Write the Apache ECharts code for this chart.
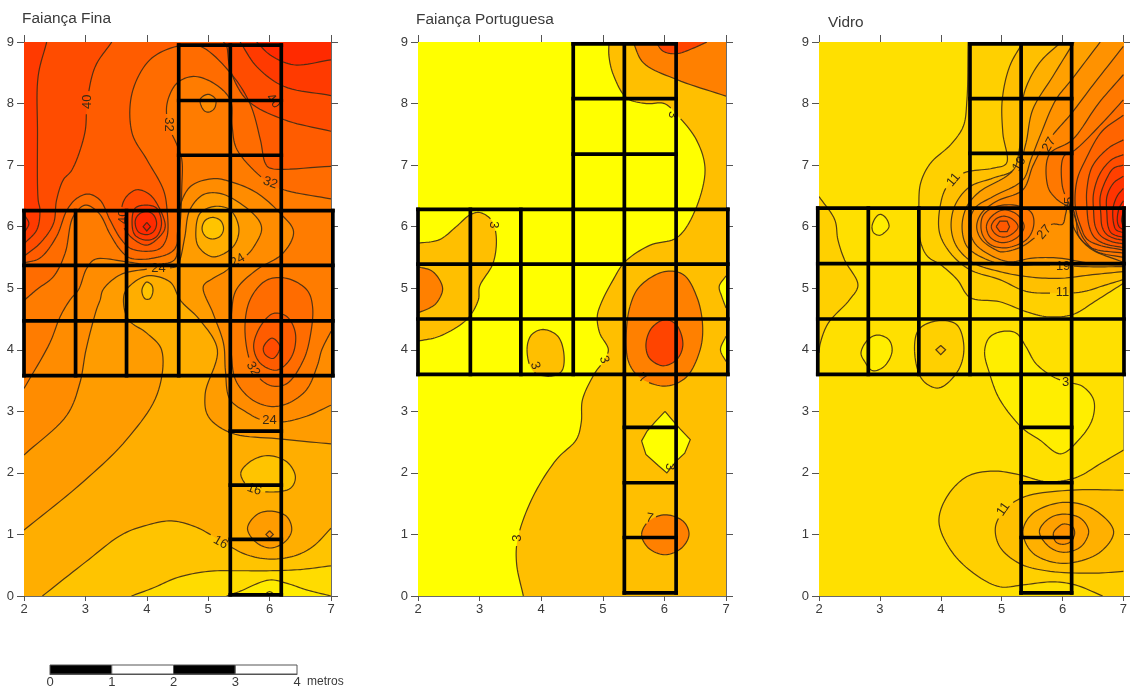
<!DOCTYPE html>
<html><head><meta charset="utf-8">
<style>html,body{margin:0;padding:0;background:#fff}#c{width:1130px;height:691px}</style>
<script src="https://cdn.jsdelivr.net/npm/echarts@6/dist/echarts.min.js"></script>
</head><body><div id="c"></div>
<script>
const panelTitles = ['Faiança Fina','Faiança Portuguesa','Vidro'];
const xTicks = [2,3,4,5,6,7];
const yTicks = [0,1,2,3,4,5,6,7,8,9];
const scaleStops = [0,1,2,3,4];

// band colours: value band starting at each contour level
const fineBands = {0:'#FFFA00',4:'#FFEC00',8:'#FFDC00',12:'#FFC400',16:'#FFAE00',20:'#FF9C00',24:'#FF8C00',28:'#FF7C00',32:'#FF6C00',36:'#FF5C00',40:'#FF4C00',44:'#FF3A00',48:'#FF2A00',52:'#FF1C00'};
const portBands = {0:'#FFFF00',3:'#FFBF00',7:'#FF8000',11:'#FF4400'};
const vidroBands = {0:'#FFEE00',3:'#FFE000',7:'#FFD000',11:'#FFC000',15:'#FFB000',19:'#FFA000',23:'#FF9200',27:'#FF8600',31:'#FF7800',35:'#FF6E00',39:'#FF6400',43:'#FF5800',47:'#FF4C00',51:'#FF4000',55:'#FF3400',59:'#FF2C00',63:'#FF2400',67:'#FF1C00'};

// contour: [level, filled band, points [x metres, y metres], closure outside the frame or null for a closed loop, sharp?]
const B = -0.5, T = 9.5, L = 1.5, R = 7.5;
const fineContours = [
 [20,20,[[2,1.07],[2.97,1.86],[3.67,2.54],[4.17,3.28],[4.24,4.0],[4.0,4.27],[3.7,4.49],[3.62,4.81],[3.67,4.98],[4,5.2],[4.38,5.1],[4.55,4.8],[4.85,4.5],[5.15,4.0],[4.95,3.28],[5.0,2.92],[5.37,2.65],[6.2,2.55],[7,2.47]],[[R,2.47],[R,T],[L,T],[L,1.07]]],
 [16,12,[[2.3,0],[3,0.55],[3.6,1.0],[4.0,1.15],[4.4,1.22],[4.8,1.12],[5.2,0.9],[5.6,0.68],[6,0.6],[6.4,0.65],[6.7,0.8],[7,1.1]],[[R,1.1],[R,B],[2.3,B]]],
 [12,8,[[3.75,0],[4.1,0.13],[4.5,0.3],[5,0.4],[5.5,0.41],[6,0.41],[6.5,0.43],[7,0.49]],[[R,0.49],[R,B],[3.75,B]]],
 [8,4,[[5.3,0],[5.5,0.07],[6,0.26],[6.3,0.2],[6.6,0.1],[7,0]],[[R,0],[R,B],[5.3,B]]],
 [4,0,[[5.9,0],[6,0.07],[6.1,0]],[[6.1,B],[5.9,B]]],
 [16,12,[[3.92,4.95],[3.95,5.05],[4,5.1],[4.08,5.05],[4.1,4.95],[4.05,4.83],[3.97,4.83]],null],
 [16,12,[[5.53,1.99],[5.68,2.18],[5.96,2.28],[6.28,2.18],[6.42,1.94],[6.34,1.75],[5.96,1.69],[5.68,1.75]],null],
 [20,20,[[5.64,1.10],[5.79,1.32],[6.01,1.38],[6.28,1.29],[6.36,1.07],[6.25,.88],[6.01,.78],[5.77,.88]],null],
 [24,24,[[6,1.06],[6.06,1],[6,.94],[5.94,1]],null,true],
 [24,24,[[2,2.29],[2.7,2.94],[2.91,3.46],[3.01,4.0],[3.18,4.65],[3.24,4.81],[3.29,4.98],[3.57,5.22],[4,5.31],[4.49,5.36],[4.54,5.46],[4.62,5.84],[4.70,6.27],[4.92,6.52],[5.19,6.54],[5.52,6.38],[5.82,6.11],[5.87,5.95],[5.76,5.70],[5.63,5.54],[5.49,5.47],[5.30,5.29],[5.08,5.16],[4.92,5.03],[5.08,4.59],[5.25,4.10],[5.28,3.67],[5.35,3.2],[5.6,3.0],[5.9,2.85],[6.22,2.83],[6.6,2.92],[7,3.1]],[[R,3.1],[R,T],[L,T],[L,2.29]]],
 [20,16,[[4.80,5.95],[4.87,6.22],[5.11,6.33],[5.36,6.27],[5.50,5.97],[5.41,5.68],[5.08,5.51],[4.84,5.68]],null],
 [16,12,[[4.9,5.97],[4.95,6.1],[5.07,6.15],[5.2,6.1],[5.25,5.97],[5.2,5.85],[5.07,5.8],[4.95,5.85]],null],
 [28,28,[[2,3.37],[2.42,4.11],[2.59,4.54],[2.75,4.81],[2.89,4.98],[3.02,5.32],[3.16,5.47],[3.67,5.43],[4,5.39],[4.45,5.46],[4.5,5.9],[4.54,6.33],[4.72,6.66],[5.09,6.78],[5.4,6.72],[5.79,6.55],[6.17,6.22],[6.39,5.92],[6.22,5.57],[5.79,5.30],[5.46,4.98],[5.38,4.6],[5.38,3.9],[5.45,3.5],[5.7,3.2],[6.01,3.08],[6.3,3.13],[6.6,3.35],[6.78,3.75],[6.85,4.0],[7,4.3]],[[R,4.3],[R,T],[L,T],[L,3.37]]],
 [28,24,[[4.87,8.07],[4.92,7.9],[5.0,7.86],[5.1,7.92],[5.12,8.07],[5.0,8.15]],null],
 [32,32,[[2,4.8],[2.21,4.98],[2.48,5.19],[2.67,5.57],[2.80,6.16],[3.0,6.35],[3.22,6.22],[3.40,5.88],[3.57,5.62],[3.73,5.49],[4.11,5.49],[4.44,5.62],[4.53,5.95],[4.57,6.65],[4.57,7.09],[4.49,7.33],[4.35,7.66],[4.33,8.0],[4.49,8.33],[4.76,8.44],[5.09,8.33],[5.36,8.06],[5.39,7.63],[5.47,7.25],[5.96,6.73],[6.23,6.6],[7,6.45]],[[R,6.45],[R,T],[L,T],[L,4.8]]],
 [32,32,[[5.60,4.27],[5.68,4.81],[5.95,5.13],[6.28,5.16],[6.61,4.97],[6.70,4.70],[6.66,4.21],[6.55,3.83],[6.28,3.45],[6.01,3.42],[5.75,3.65]],null],
 [36,36,[[5.74,4.05],[5.85,4.38],[6.06,4.59],[6.28,4.54],[6.42,4.27],[6.36,3.89],[6.12,3.67],[5.85,3.78]],null],
 [40,40,[[5.90,4.04],[6.04,4.19],[6.17,4.05],[6.06,3.86],[5.93,3.92]],null],
 [36,36,[[2,5.41],[2.26,5.49],[2.53,5.84],[2.70,6.27],[2.86,6.46],[3.05,6.53],[3.24,6.43],[3.40,6.11],[3.57,5.81],[3.73,5.65],[4.0,5.6],[4.22,5.65],[4.33,5.84],[4.33,6.27],[4.27,6.6],[4.0,7.09],[3.76,7.52],[3.76,8.17],[4.05,8.71],[4.49,8.93],[4.87,8.93],[5.36,8.5],[5.68,8.0],[5.85,7.41],[5.93,7.03],[6.01,6.95],[7,6.98]],[[R,6.98],[R,T],[L,T],[L,5.41]]],
 [40,40,[[2,5.52],[2.26,5.73],[2.48,6.05],[2.53,6.43],[2.64,6.76],[2.78,6.92],[2.99,7.52],[3.03,8.03],[3.16,8.6],[3.43,9]],[[3.43,T],[L,T],[L,5.52]]],
 [40,40,[[3.59,6.30],[3.67,6.49],[3.84,6.6],[4.05,6.52],[4.22,6.27],[4.3,6.0],[4.22,5.85],[4.0,5.7],[3.78,5.8],[3.62,6.0]],null],
 [44,44,[[3.76,6.05],[3.81,6.3],[4.0,6.35],[4.16,6.3],[4.24,6.05],[4.16,5.84],[4.0,5.78],[3.81,5.86]],null],
 [48,48,[[3.81,6.08],[3.86,6.19],[4.0,6.25],[4.11,6.19],[4.16,6.05],[4.11,5.92],[4.0,5.87],[3.86,5.92]],null],
 [52,52,[[4,6.07],[4.06,6.0],[4,5.93],[3.94,6.0]],null,true],
 [44,44,[[2.37,9],[2.23,8.44],[2.22,7.52],[2.23,6.44],[2.26,6.27],[2.21,5.95],[2,5.72]],[[L,5.72],[L,T],[2.37,T]]],
 [48,48,[[2,6.2],[2.08,6.05],[2,5.9]],[[L,5.9],[L,6.2]]],
 [40,40,[[5.25,9],[5.3,8.93],[5.36,8.55],[5.63,8.06],[6.23,7.74],[7,7.55]],[[R,7.55],[R,T],[5.25,T]]],
 [44,44,[[5.52,9],[5.79,8.6],[6.23,8.28],[7,8.13]],[[R,8.13],[R,T],[5.52,T]]],
 [48,48,[[5.79,9],[6.01,8.79],[6.39,8.63],[7,8.71]],[[R,8.71],[R,T],[5.79,T]]]
];
const fineLabels = [[3.03,8.03,'40',90],[4.35,7.66,'32',-90],[6.01,6.71,'32',-20],[6.06,8.04,'40',-50],[3.62,6.16,'40',90],[4.19,5.32,'24',0],[5.48,5.45,'24',30],[5.73,3.69,'32',-60],[6,2.85,'24',0],[5.75,1.73,'16',-20],[5.2,.87,'16',-30]];

const portContours = [
 [3,3,[[3.71,0],[3.6,.53],[3.62,.94],[3.87,1.62],[4.25,2.22],[4.57,2.54],[4.65,2.82],[4.67,3.19],[4.87,3.62],[5.0,3.8],[5.09,4],[4.95,4.27],[4.91,4.54],[4.97,4.75],[5.17,5.14],[5.36,5.43],[5.77,5.7],[6.2,5.82],[6.47,6.2],[6.66,6.92],[6.52,7.41],[6.2,7.82],[6.0,8.0],[5.71,8.0],[5.39,8.09],[5.17,8.47],[5.1,8.77],[5.1,9]],[[5.1,T],[R,T],[R,B],[3.71,B]]],
 [3,0,[[7,5.2],[6.89,5.03],[6.93,4.87],[7,4.68]],[[R,4.68],[R,5.2]]],
 [3,0,[[7,4.22],[6.91,4.0],[7,3.81]],[[R,3.81],[R,4.22]]],
 [3,0,[[6.01,3.0],[6.12,2.87],[6.25,2.72],[6.42,2.54],[6.33,2.32],[6.2,2.2],[6.04,2.0],[5.9,2.12],[5.7,2.3],[5.63,2.52],[5.72,2.68],[5.85,2.83]],null,true],
 [3,3,[[2,5.73],[2.35,5.79],[2.62,6.0],[2.84,6.19],[3.0,6.23],[3.19,6.11],[3.27,5.84],[3.22,5.41],[3.0,5.03],[2.98,4.81],[2.79,4.49],[2.35,4.22],[2,4.14]],[[L,4.14],[L,5.73]]],
 [7,7,[[2,5.35],[2.24,5.27],[2.4,5],[2.3,4.76],[2.19,4.68],[2,4.6]],[[L,4.6],[L,5.35]]],
 [3,3,[[3.77,4],[3.84,4.24],[4.03,4.33],[4.27,4.22],[4.37,3.92],[4.33,3.65],[4.14,3.57],[3.87,3.65]],null],
 [7,7,[[5.44,4.7],[5.38,4.2],[5.42,3.8],[5.6,3.55],[6.01,3.41],[6.35,3.55],[6.58,4.0],[6.62,4.4],[6.53,4.85],[6.31,5.22],[6,5.27],[5.6,5.03]],null],
 [11,11,[[5.7,4.08],[5.79,4.35],[6.01,4.49],[6.2,4.4],[6.3,4.08],[6.2,3.84],[5.98,3.74],[5.76,3.86]],null],
 [7,7,[[5.63,1],[5.74,1.21],[6.01,1.32],[6.31,1.21],[6.4,1],[6.28,.78],[6.01,.67],[5.74,.78]],null],
 [7,7,[[5.49,9],[5.66,8.66],[6.2,8.39],[7,8.12]],[[R,8.12],[R,T],[5.49,T]]],
 [11,11,[[5.86,9],[5.98,8.85],[6.2,8.81],[6.47,8.9],[6.69,9]],[[6.69,T],[5.86,T]]]
];
const portLabels = [[3.22,6.03,'3',-90],[6.14,7.82,'3',-90],[3.9,3.74,'3',-70],[5.02,3.84,'3',-70],[6.08,2.1,'3',-90],[3.61,.94,'3',90],[5.76,1.26,'7',-10],[5.65,3.54,'7',-30]];

const vidroContours = [
 [3,0,[[2.87,6],[2.94,6.16],[3.01,6.2],[3.1,6.14],[3.15,6],[3.07,5.9],[2.99,5.86],[2.9,5.9]],null],
 [3,0,[[2.69,3.95],[2.8,4.16],[2.96,4.24],[3.15,4.16],[3.2,3.97],[3.07,3.73],[2.88,3.66],[2.75,3.81]],null],
 [3,0,[[4.72,3.97],[4.8,4.2],[5.02,4.3],[5.24,4.27],[5.4,4.05],[5.56,3.78],[5.83,3.57],[6.05,3.48],[6.32,3.41],[6.51,3.19],[6.49,2.87],[6.27,2.54],[5.97,2.31],[5.62,2.54],[5.35,2.72],[4.97,3.19],[4.8,3.62]],null],
 [7,7,[[2,6.49],[2.26,6.11],[2.31,5.79],[2.42,5.46],[2.64,5.05],[2.5,4.81],[2.15,4.43],[2.02,4.1],[2,3.95]],[[L,3.95],[L,6.49]]],
 [7,7,[[3.57,3.97],[3.64,4.33],[3.94,4.47],[4.26,4.41],[4.38,4.05],[4.29,3.67],[3.97,3.38],[3.7,3.51]],null],
 [11,11,[[4,4.07],[4.08,4],[4,3.92],[3.92,4]],null,true],
 [7,7,[[7,2.37],[6.64,2.16],[6.21,1.92],[5.73,1.86],[5.29,1.97],[4.86,2.03],[4.43,1.94],[4.1,1.61],[3.97,1.21],[4.16,.75],[4.54,.37],[4.97,.15],[5.35,.18],[5.84,.23],[6.21,.18],[6.66,0]],[[6.66,B],[R,B],[R,2.37]]],
 [11,11,[[7,1.72],[6.16,1.72],[5.4,1.62],[5.08,1.43],[4.9,1.13],[4.97,.80],[5.29,.53],[5.73,.41],[6.49,.37],[7,.4]],[[R,.4],[R,1.72]]],
 [15,15,[[5.35,1.05],[5.51,1.34],[6,1.52],[6.49,1.42],[6.84,1.05],[6.6,.7],[6,.53],[5.51,.7]],null],
 [19,19,[[5.62,1.05],[5.78,1.26],[6.02,1.33],[6.3,1.26],[6.43,1.05],[6.3,.8],[6.02,.71],[5.78,.8]],null],
 [23,23,[[5.85,1.02],[5.94,1.13],[6.02,1.17],[6.16,1.13],[6.2,1.02],[6.13,.88],[6,.84],[5.89,.88]],null],
 [7,7,[[4.45,9],[4.43,8.06],[4.37,7.63],[4.16,7.33],[3.83,7.03],[3.67,6.71],[3.64,6.33],[3.66,5.79],[3.78,5.52],[4.0,5.38],[4.27,5.14],[4.48,4.85],[4.97,4.78],[5.4,4.62],[5.73,4.54],[6.16,4.57],[6.57,4.81],[7,5.08]],[[R,5.08],[R,T],[4.45,T]]],
 [11,11,[[5.35,9],[5.13,8.6],[5.01,8.06],[5.02,7.52],[5.08,7.03],[4.86,6.95],[4.37,6.87],[4.1,6.65],[3.99,6.33],[3.98,5.9],[4.16,5.57],[4.48,5.3],[4.97,5.14],[5.4,4.95],[5.84,4.92],[6.32,4.94],[6.7,5.05],[7,5.14]],[[R,5.14],[R,T],[5.35,T]]],
 [15,15,[[5.98,9],[5.62,8.66],[5.37,8.17],[5.32,7.63],[5.29,7.25],[5.19,6.92],[4.86,6.79],[4.48,6.65],[4.24,6.36],[4.17,6.0],[4.26,5.68],[4.54,5.41],[4.97,5.27],[5.4,5.19],[5.94,5.16],[6.49,5.22],[7,5.27]],[[R,5.27],[R,T],[5.98,T]]],
 [19,19,[[6.19,9],[5.84,8.44],[5.51,7.9],[5.4,7.36],[5.29,7.03],[5.08,6.82],[4.64,6.57],[4.43,6.33],[4.35,6.0],[4.43,5.68],[4.7,5.49],[5.08,5.38],[5.73,5.38],[6.38,5.35],[7,5.35]],[[R,5.35],[R,T],[6.19,T]]],
 [23,23,[[6.62,9],[6.15,8.39],[5.89,8.06],[5.65,7.52],[5.48,7.09],[5.35,6.76],[4.86,6.49],[4.56,6.3],[4.47,6.0],[4.56,5.73],[4.81,5.54],[5.13,5.43],[5.51,5.49],[5.94,5.49],[6.49,5.4],[7,5.38]],[[R,5.38],[R,T],[6.62,T]]],
 [27,27,[[7,8.93],[6.5,8.3],[6.13,7.82],[5.89,7.55],[5.67,7.28],[5.51,6.98],[5.35,6.6],[4.91,6.41],[4.67,6.22],[4.59,6.0],[4.67,5.79],[4.91,5.62],[5.0,5.59],[5.32,5.67],[5.67,5.92],[5.83,6.04],[6.0,6.04],[6.05,6.2],[6.1,6.4],[6.13,6.22],[6.2,5.95],[6.45,5.65],[7,5.42]],[[R,5.42],[R,8.93]]],
 [31,31,[[7,8.47],[6.59,8.0],[6.16,7.41],[5.78,7.17],[5.76,6.65],[5.89,6.46],[6.05,6.35],[6.16,6.3],[6.24,6.05],[6.35,5.8],[6.55,5.6],[7,5.5]],[[R,5.5],[R,8.47]]],
 [35,35,[[7,8.06],[6.65,7.68],[6.21,7.25],[6.02,7.14],[5.99,6.71],[6.05,6.49],[6.13,6.33],[6.22,6.11],[6.27,5.84],[6.49,5.65],[7,5.57]],[[R,5.57],[R,8.06]]],
 [39,39,[[7,7.81],[6.65,7.55],[6.38,7.09],[6.24,6.76],[6.21,6.33],[6.3,6.0],[6.4,5.8],[6.6,5.7],[7,5.62]],[[R,5.62],[R,7.81]]],
 [43,43,[[7,7.41],[6.76,7.28],[6.49,6.98],[6.4,6.6],[6.4,6.33],[6.44,6.0],[6.53,5.82],[6.7,5.72],[7,5.66]],[[R,5.66],[R,7.41]]],
 [47,47,[[7,7.17],[6.81,7.09],[6.62,6.87],[6.51,6.54],[6.51,6.27],[6.54,6.0],[6.63,5.85],[6.8,5.76],[7,5.72]],[[R,5.72],[R,7.17]]],
 [51,51,[[7,7],[6.84,6.95],[6.73,6.79],[6.62,6.49],[6.63,6.2],[6.65,6.0],[6.72,5.88],[6.85,5.81],[7,5.78]],[[R,5.78],[R,7]]],
 [55,55,[[7,6.82],[6.84,6.71],[6.73,6.49],[6.73,6.2],[6.75,6.0],[6.8,5.9],[6.9,5.85],[7,5.83]],[[R,5.83],[R,6.82]]],
 [59,59,[[7,6.62],[6.9,6.5],[6.83,6.3],[6.84,6.05],[6.88,5.95],[7,5.9]],[[R,5.9],[R,6.62]]],
 [63,63,[[7,6.42],[6.93,6.3],[6.9,6.1],[6.93,6.0],[7,5.95]],[[R,5.95],[R,6.42]]],
 [67,67,[[7,6.25],[6.97,6.1],[7,6.0]],[[R,6.0],[R,6.25]]],
 [31,31,[[4.66,6],[4.7,6.19],[4.89,6.32],[5.21,6.35],[5.48,6.24],[5.53,6.05],[5.43,5.81],[5.1,5.66],[4.83,5.7],[4.7,5.84]],null],
 [35,35,[[4.75,6],[4.82,6.15],[5.02,6.27],[5.25,6.2],[5.37,6.0],[5.25,5.82],[5.02,5.74],[4.82,5.82]],null],
 [39,39,[[4.83,6],[4.9,6.12],[5.03,6.17],[5.18,6.12],[5.27,6.0],[5.17,5.88],[5.03,5.83],[4.9,5.88]],null],
 [43,43,[[4.91,6.0],[4.97,6.09],[5.09,6.09],[5.13,6],[5.09,5.92],[4.97,5.92]],null,true]
];
const vidroLabels = [[4.21,6.76,'11',50],[5.29,7.02,'19',60],[5.78,7.33,'27',60],[6.11,6.37,'35',90],[5.7,5.91,'27',50],[6.01,5.35,'19',0],[6,4.93,'11',0],[6.05,3.47,'3',0],[5.03,1.41,'11',55]];

// excavation squares, metres
const fineSquares = {cols:[2,2.84,3.67,4.52,5.36,6.19,7.03],rows:[3.58,4.47,5.37,6.26],upper:[7.16,8.05,8.95],lower:[.02,.92,1.8,2.68]};
const portSquares = {cols:[2,2.85,3.67,4.52,5.35,6.19,7.03],rows:[3.6,4.5,5.39,6.28],upper:[7.18,8.08,8.97],lower:[.05,.95,1.84,2.74]};
const vidroSquares = {cols:[1.98,2.81,3.64,4.48,5.32,6.15,7.01],rows:[3.6,4.5,5.4,6.3],upper:[7.19,8.08,8.97],lower:[.05,.95,1.84,2.74]};

const panels = [
 {contours:fineContours,labels:fineLabels,bands:fineBands,base:16,sq:fineSquares,left:24,width:307,tx:17,ty:6},
 {contours:portContours,labels:portLabels,bands:portBands,base:0,sq:portSquares,left:418,width:308,tx:411,ty:7},
 {contours:vidroContours,labels:vidroLabels,bands:vidroBands,base:3,sq:vidroSquares,left:819,width:308,tx:823,ty:10}
];
const TOP=42, H=554, AX='#6b6b6b', TXT='#3a3a3a', FONT='"Liberation Sans",Arial,sans-serif', INK='#3f2c16';

// centripetal Catmull-Rom through the contour's read points, in pixels
function spline(P,closed){
  const n=P.length, out=[], S=10;
  const at=i=>{
    if(closed) return P[(i+n)%n];
    if(i<0) return [2*P[0][0]-P[1][0],2*P[0][1]-P[1][1]];
    if(i>=n) return [2*P[n-1][0]-P[n-2][0],2*P[n-1][1]-P[n-2][1]];
    return P[i];
  };
  const m=closed?n:n-1;
  for(let i=0;i<m;i++){
    const p0=at(i-1),p1=at(i),p2=at(i+1),p3=at(i+2);
    const d=(a,b)=>Math.max(Math.sqrt(Math.hypot(a[0]-b[0],a[1]-b[1])),1e-3);
    const t0=0,t1=t0+d(p0,p1),t2=t1+d(p1,p2),t3=t2+d(p2,p3);
    for(let s=0;s<S;s++){
      const t=t1+(t2-t1)*s/S;
      const lerp=(a,b,ta,tb)=>[(tb-t)/(tb-ta)*a[0]+(t-ta)/(tb-ta)*b[0],(tb-t)/(tb-ta)*a[1]+(t-ta)/(tb-ta)*b[1]];
      const A1=lerp(p0,p1,t0,t1),A2=lerp(p1,p2,t1,t2),A3=lerp(p2,p3,t2,t3);
      const B1=lerp(A1,A2,t0,t2),B2=lerp(A2,A3,t1,t3);
      out.push(lerp(B1,B2,t1,t2));
    }
  }
  if(!closed) out.push(P[n-1]);
  return out;
}
function outline(c,api){
  const px=c[2].map(q=>api.coord(q));
  return c[4]?px:spline(px,!c[3]);
}

function squareSegments(s){
  const c=s.cols, seg=[];
  const a=c[0], b=c[c.length-1];
  s.rows.forEach(r=>seg.push([a,r,b,r]));
  c.forEach(x=>seg.push([x,s.rows[0],x,s.rows[3]]));
  const topY=s.upper[2], rt=s.rows[3];
  s.upper.forEach(y=>seg.push([c[3],y,c[5],y]));
  [c[3],c[4],c[5]].forEach(x=>seg.push([x,rt,x,topY]));
  s.lower.forEach(y=>seg.push([c[4],y,c[5],y]));
  [c[4],c[5]].forEach(x=>seg.push([x,s.lower[0],x,s.rows[0]]));
  return seg;
}

const grid=[],xAxis=[],yAxis=[],series=[],title=[];
panels.forEach((p,i)=>{
  grid.push({left:p.left,width:p.width,top:TOP,height:H});
  const axCommon={type:'value',splitLine:{show:false},axisLine:{show:true,onZero:false,lineStyle:{color:AX,width:1}},axisTick:{show:true,length:7,lineStyle:{color:'#555'}}};
  const lab={color:TXT,fontSize:13,fontFamily:FONT};
  xAxis.push({...axCommon,gridIndex:i,min:xTicks[0],max:xTicks[5],interval:1,position:'bottom',axisTick:{show:true,length:5,lineStyle:{color:'#555'}},axisLabel:{...lab,margin:7}});
  xAxis.push({...axCommon,gridIndex:i,min:xTicks[0],max:xTicks[5],interval:1,position:'top',axisLabel:{show:false}});
  yAxis.push({...axCommon,gridIndex:i,min:yTicks[0],max:yTicks[9],interval:1,position:'left',axisLabel:{...lab,margin:10}});
  yAxis.push({...axCommon,gridIndex:i,min:yTicks[0],max:yTicks[9],interval:1,position:'right',axisLabel:{show:false}});
  const xi=i*2, yi=i*2;
  title.push({text:panelTitles[i],left:p.tx,top:p.ty,textStyle:{fontFamily:FONT,fontSize:15.4,fontWeight:'normal',color:TXT}});
  const base={type:'custom',coordinateSystem:'cartesian2d',xAxisIndex:xi,yAxisIndex:yi,silent:true,animation:false};
  series.push({...base,clip:true,z:1,data:[[p.base]],renderItem(par,api){
    const a=api.coord([2,9]),b=api.coord([7,0]);
    return {type:'rect',shape:{x:a[0],y:a[1],width:b[0]-a[0],height:b[1]-a[1]},style:{fill:p.bands[p.base]}};
  }});
  series.push({...base,clip:true,z:2,data:p.contours.map((c,k)=>[k]),renderItem(par,api){
    const c=p.contours[par.dataIndex];
    const pts=outline(c,api).concat((c[3]||[]).map(q=>api.coord(q)));
    return {type:'polygon',shape:{points:pts},style:{fill:p.bands[c[1]],stroke:null}};
  }});
  // contour lines, broken where a label sits
  series.push({...base,clip:true,z:3,data:p.contours.map((c,k)=>[k]),renderItem(par,api){
    const c=p.contours[par.dataIndex];
    const pts=outline(c,api);
    if(!c[3]) pts.push(pts[0]);
    const gaps=p.labels.filter(l=>+l[2]===c[0]).map(l=>({q:api.coord([l[0],l[1]]),r:l[2].length>1?10:6}));
    const runs=[];let cur=[];
    pts.forEach(q=>{
      if(gaps.some(g=>Math.hypot(g.q[0]-q[0],g.q[1]-q[1])<g.r)){ if(cur.length>1) runs.push(cur); cur=[]; }
      else cur.push(q);
    });
    if(cur.length>1) runs.push(cur);
    return {type:'group',children:runs.map(r=>({type:'polyline',shape:{points:r},style:{fill:'none',stroke:INK,lineWidth:1.2,opacity:.9}}))};
  }});
  series.push({...base,clip:false,z:4,data:p.labels.map((c,k)=>[k]),renderItem(par,api){
    const l=p.labels[par.dataIndex], q=api.coord([l[0],l[1]]);
    return {type:'text',x:q[0],y:q[1],rotation:l[3]*Math.PI/180,style:{text:l[2],fontFamily:FONT,fontSize:13,fill:'#3a2a14',align:'center',verticalAlign:'middle'}};
  }});
  const segs=squareSegments(p.sq);
  series.push({...base,clip:false,z:5,data:segs.map((s,k)=>[k]),renderItem(par,api){
    const s=segs[par.dataIndex],u=api.coord([s[0],s[1]]),v=api.coord([s[2],s[3]]);
    return {type:'line',shape:{x1:u[0],y1:u[1],x2:v[0],y2:v[1]},style:{stroke:'#000',lineWidth:3.7,lineCap:'square'}};
  }});
});
// scale bar
grid.push({left:50,width:247,top:665,height:9});
xAxis.push({type:'value',gridIndex:3,min:scaleStops[0],max:scaleStops[4],interval:1,position:'bottom',splitLine:{show:false},axisLine:{show:true,onZero:false,lineStyle:{color:'#555'}},axisTick:{show:false},axisLabel:{color:TXT,fontSize:13,fontFamily:FONT,margin:2}});
yAxis.push({type:'value',gridIndex:3,min:0,max:1,show:false,splitLine:{show:false}});
series.push({type:'custom',coordinateSystem:'cartesian2d',xAxisIndex:6,yAxisIndex:6,silent:true,animation:false,z:2,data:scaleStops.slice(0,4).map(v=>[v]),renderItem(par,api){
  const v=scaleStops[par.dataIndex],a=api.coord([v,1]),b=api.coord([v+1,0]);
  return {type:'rect',shape:{x:a[0],y:a[1],width:b[0]-a[0],height:b[1]-a[1]},style:{fill:v%2?'#fff':'#000',stroke:'#555',lineWidth:1}};
}});
title.push({text:'metros',left:302,top:671,textStyle:{fontFamily:FONT,fontSize:12,fontWeight:'normal',color:TXT}});

const chart=echarts.init(document.getElementById('c'),null,{renderer:'canvas'});
chart.setOption({animation:false,backgroundColor:'#fff',title,grid,xAxis,yAxis,series});
</script></body></html>
